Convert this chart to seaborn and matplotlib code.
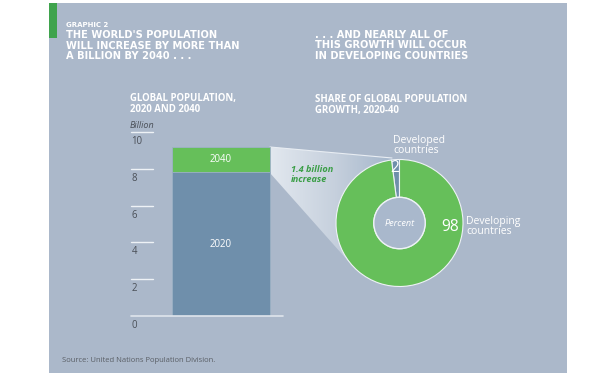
import numpy as np
import pandas as pd
import seaborn as sns
import matplotlib
matplotlib.use("Agg")
import matplotlib.pyplot as plt
from matplotlib.patches import Rectangle, Polygon, Circle
from matplotlib.colors import LinearSegmentedColormap

# ---------------- data ----------------
years = ["2020", "2040"]
population_billion = [7.8, 9.2]
y_ticks = [0, 2, 4, 6, 8, 10]
share_labels = ["Developed\ncountries", "Developing\ncountries"]
share_values = [2, 98]

# ---------------- style ----------------
BG = "#abb8ca"
BLUE = "#6f8fab"
GREEN = "#66bf5a"
DARK_GREEN = "#3a9e46"
TXT_DARK = "#4a4f57"
W, H = 612, 376

sns.set_theme(style="white")
plt.rcParams["font.family"] = ["Open Sans", "DejaVu Sans"]

def pt(px):
    return px * 0.72

fig = plt.figure(figsize=(W / 100, H / 100), dpi=100)
fig.patch.set_facecolor("white")

# background / decoration axes in pixel coordinates
bg = fig.add_axes([0, 0, 1, 1], zorder=0)
bg.set_xlim(0, W)
bg.set_ylim(H, 0)
bg.axis("off")
bg.add_patch(Rectangle((49, 3), 518, 370, facecolor=BG, edgecolor="none"))
bg.add_patch(Rectangle((49, 3), 8, 35, facecolor="#3fa34d", edgecolor="none"))

# funnel with gradient
funnel_pts = [(270, 147), (392, 158), (400, 223), (349, 262), (270, 173)]
poly = Polygon(funnel_pts, closed=True, facecolor="none", edgecolor="none")
bg.add_patch(poly)
grad = np.linspace(0, 1, 256).reshape(1, -1)
cmap = LinearSegmentedColormap.from_list("f", ["#e2e8ef", "#c6d0dd", "#9fb2c8"])
im = bg.imshow(grad, extent=(270, 400, 262, 147), cmap=cmap, aspect="auto", zorder=1)
im.set_clip_path(poly)
bg.plot([270, 392], [147, 158], color="#e8edf3", lw=0.8, zorder=2)
bg.set_xlim(0, W)
bg.set_ylim(H, 0)

# titles
bold_fam = ["DejaVu Sans"]
bg.text(66, 25, "GRAPHIC 2", color="white", fontsize=pt(7), fontweight="bold",
        family=bold_fam, va="center", ha="left")
for i, line in enumerate(["THE WORLD'S POPULATION", "WILL INCREASE BY MORE THAN",
                          "A BILLION BY 2040 . . ."]):
    bg.text(66, 35.5 + 10.4 * i, line, color="white", fontsize=pt(9.9), fontweight="bold",
            family=bold_fam, va="center", ha="left")
for i, line in enumerate([". . . AND NEARLY ALL OF", "THIS GROWTH WILL OCCUR",
                          "IN DEVELOPING COUNTRIES"]):
    bg.text(315, 34.8 + 10.4 * i, line, color="white", fontsize=pt(9.9), fontweight="bold",
            family=bold_fam, va="center", ha="left")

sub_fs = pt(9.7)
bg.text(130, 99, "GLOBAL POPULATION,", color="white", fontsize=sub_fs, fontweight="bold",
        va="center", ha="left")
bg.text(130, 110, "2020 AND 2040", color="white", fontsize=sub_fs, fontweight="bold",
        va="center", ha="left")
bg.text(315, 99, "SHARE OF GLOBAL POPULATION", color="white", fontsize=sub_fs,
        fontweight="bold", va="center", ha="left")
bg.text(315, 110, "GROWTH, 2020-40", color="white", fontsize=sub_fs, fontweight="bold",
        va="center", ha="left")
bg.text(130, 125, "Billion", color=TXT_DARK, fontsize=pt(9), style="italic",
        va="center", ha="left")

bg.text(291, 170, "1.4 billion", color=DARK_GREEN, fontsize=pt(9.2), fontweight="bold",
        style="italic", va="center", ha="left")
bg.text(291, 179, "increase", color=DARK_GREEN, fontsize=pt(9.2), fontweight="bold",
        style="italic", va="center", ha="left")

bg.text(62, 360, "Source: United Nations Population Division.", color="#5a5f66",
        fontsize=pt(7.6), va="center", ha="left")

# ---------------- bar axes ----------------
left_px, right_px = 131, 283
y0_px, y10_px = 316, 132
ax = fig.add_axes([left_px / W, (H - y0_px) / H, (right_px - left_px) / W,
                   (y0_px - y10_px) / H], zorder=2)
ax.patch.set_alpha(0)
df = pd.DataFrame({"cat": ["Population"], "val": [population_billion[1]]})
sns.barplot(data=df, x="cat", y="val", color=GREEN, width=0.645, saturation=1,
            edgecolor="#9db1c6", linewidth=0.6, ax=ax)
df2 = pd.DataFrame({"cat": ["Population"], "val": [population_billion[0]]})
sns.barplot(data=df2, x="cat", y="val", color=BLUE, width=0.645, saturation=1,
            edgecolor="#9db1c6", linewidth=0.6, ax=ax)
ax.set_xlim(-0.592, 0.408)
ax.set_ylim(0, 10)
for s in ax.spines.values():
    s.set_visible(False)
ax.set_xticks([])
ax.set_yticks([])
ax.set_xlabel("")
ax.set_ylabel("")
ax.axhline(0, color="#dfe5ec", lw=1.2, zorder=5, clip_on=False)
trans = matplotlib.transforms.blended_transform_factory(ax.transAxes, ax.transData)
for t in y_ticks:
    if t > 0:
        ax.plot([0, 0.145], [t, t], color="#eef2f6", lw=1.0, transform=trans, clip_on=False)
    ax.annotate(str(t), xy=(0, t), xycoords=trans, xytext=(0.5, -4),
                textcoords="offset pixels", color=TXT_DARK, fontsize=pt(9.6),
                ha="left", va="top", annotation_clip=False)
ax.text(0, population_billion[0] / 2, years[0], color="white", fontsize=pt(9.6),
        ha="center", va="center")
ax.text(0, (population_billion[0] + population_billion[1]) / 2, years[1], color="white",
        fontsize=pt(9.6), ha="center", va="center")

# ---------------- donut axes ----------------
cx, cy, r = 399.5, 223, 63.5
pax = fig.add_axes([(cx - r) / W, (H - cy - r) / H, 2 * r / W, 2 * r / H], zorder=3)
pax.patch.set_alpha(0)
inner = 0.405
pax.pie(share_values, colors=[BLUE, GREEN], startangle=90, counterclock=True,
        wedgeprops=dict(width=1 - inner, edgecolor="#eef2f6", linewidth=0.8))
pax.add_patch(Circle((0, 0), inner, facecolor="#a9b8cc", edgecolor="#eef2f6", lw=1.0, zorder=5))
pax.set_xlim(-1, 1)
pax.set_ylim(-1, 1)
pax.set_aspect("equal")
pax.axis("off")
pax.text(0, 0, "Percent", color="white", fontsize=pt(9.2), style="italic",
         ha="center", va="center", zorder=6)
pax.text(-0.07, 0.86, str(share_values[0]), color="white", fontsize=pt(15.5),
         ha="center", va="center", zorder=6)
pax.text(0.80, -0.06, str(share_values[1]), color="white", fontsize=pt(15.5),
         ha="center", va="center", zorder=6)
pax.text(-0.10, 1.06, share_labels[0], color="white", fontsize=pt(10.4), ha="left",
         va="bottom", linespacing=0.85, zorder=6, clip_on=False)
pax.text(1.05, -0.06, share_labels[1], color="white", fontsize=pt(10.4), ha="left",
         va="center", linespacing=0.85, zorder=6, clip_on=False)

fig.savefig("out.png", dpi=100, facecolor="white")
